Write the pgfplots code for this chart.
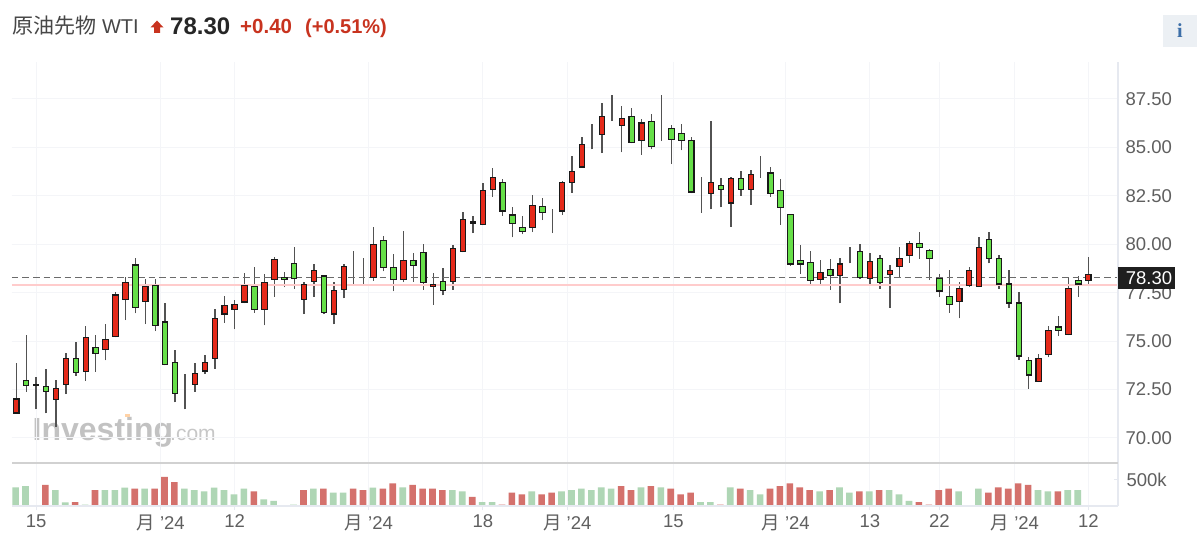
\documentclass[border=0pt]{standalone}
\usepackage{fontspec}
\usepackage{pgfplots}
\usepackage{pgfplotstable}
\pgfplotsset{compat=1.18}
\setmainfont{Liberation Sans}
\newfontfamily\cjk{Noto Sans CJK JP}
\definecolor{candleR}{HTML}{E52A1A}
\definecolor{candleG}{HTML}{66DF48}
\definecolor{volR}{HTML}{D4716C}
\definecolor{volG}{HTML}{AFD6B5}
\definecolor{gridc}{HTML}{F4F5F8}
\definecolor{axisc}{HTML}{E6E9F0}
\definecolor{labc}{HTML}{5F5F5F}
\definecolor{upred}{HTML}{C8331F}
\definecolor{infobg}{HTML}{ECF0F4}
\definecolor{infoi}{HTML}{3D6FA8}
\pgfplotstableread{
i H T B L c
0 73.85 72.01 71.29 71.24 1
1 75.32 72.99 72.70 72.39 0
2 73.16 72.77 72.72 71.48 1
3 73.56 72.65 72.41 71.27 0
4 72.99 72.56 71.99 70.58 1
5 74.40 74.09 72.77 72.27 1
6 74.97 74.11 73.39 73.22 0
7 75.80 75.21 73.41 72.96 1
8 75.32 74.68 74.37 73.42 0
9 75.87 75.09 74.59 74.01 1
10 77.55 77.38 75.26 75.20 1
11 78.33 78.02 77.17 76.09 1
12 79.29 78.93 76.74 76.43 0
13 78.19 77.81 77.04 75.88 1
14 78.19 77.88 75.83 75.52 0
15 76.99 75.99 73.80 73.75 0
16 74.54 73.89 72.29 71.84 0
17 73.29 72.78 72.78 71.48 0
18 73.85 73.34 72.77 72.39 1
19 74.27 73.90 73.46 73.30 1
20 76.64 76.19 74.09 73.58 1
21 77.35 76.83 76.40 75.95 1
22 77.12 76.88 76.61 75.61 1
23 78.53 77.88 77.02 76.95 1
24 78.81 77.81 76.61 76.47 0
25 78.47 78.02 76.61 75.81 1
26 79.36 79.20 78.16 77.30 1
27 78.59 78.27 78.16 77.78 0
28 79.88 79.00 78.22 77.71 0
29 78.07 77.93 77.17 76.40 1
30 78.97 78.64 78.09 77.30 1
31 78.40 78.36 76.47 76.40 0
32 78.04 77.61 76.40 75.87 1
33 78.98 78.86 77.67 77.21 1
34 79.65 78.58 78.58 77.86 0
35 79.31 78.30 78.30 77.97 0
36 80.91 79.98 78.29 78.12 1
37 80.43 80.19 78.78 78.60 0
38 79.50 78.79 78.16 77.57 0
39 80.70 79.14 78.16 78.04 1
40 79.57 79.14 78.91 78.07 0
41 80.01 79.57 78.02 77.64 0
42 78.50 77.93 77.81 76.87 1
43 78.76 78.09 77.61 77.36 0
44 79.95 79.76 78.09 77.64 1
45 81.68 81.30 79.62 79.58 1
46 81.48 81.15 81.10 80.57 1
47 83.15 82.77 81.01 80.98 1
48 83.94 83.47 82.84 82.46 1
49 83.35 83.20 81.72 81.48 0
50 81.94 81.51 81.08 80.36 0
51 81.44 80.87 80.67 80.51 0
52 82.53 81.99 80.87 80.63 1
53 82.37 81.94 81.65 81.25 0
54 81.80 81.37 81.37 80.57 0
55 83.27 83.18 81.72 81.53 1
56 84.56 83.75 83.18 82.66 1
57 85.52 85.14 83.99 83.95 1
58 86.23 85.43 85.43 84.90 0
59 87.28 86.61 85.69 84.70 1
60 87.69 86.96 86.96 86.36 0
61 87.14 86.47 86.11 84.75 1
62 87.05 86.61 85.26 85.21 0
63 86.45 86.26 85.35 84.61 1
64 86.71 86.33 85.07 84.90 0
65 87.69 85.72 85.72 85.33 0
66 86.16 85.99 85.40 84.14 0
67 86.23 85.71 85.35 84.85 0
68 85.56 85.35 82.70 82.63 0
69 83.49 82.78 82.78 81.62 0
70 86.35 83.18 82.61 81.80 1
71 83.40 83.04 82.84 81.91 0
72 83.46 83.40 82.13 80.91 1
73 83.78 83.40 82.84 82.51 0
74 83.83 83.61 82.84 82.03 1
75 84.54 83.88 83.88 83.44 0
76 83.97 83.68 82.61 82.46 0
77 83.35 82.77 81.92 81.00 0
78 81.56 81.53 78.98 78.90 0
79 79.94 79.14 78.98 78.48 0
80 79.63 79.07 78.15 77.95 0
81 79.17 78.52 78.17 77.95 1
82 79.24 78.71 78.38 77.64 0
83 79.29 78.98 78.38 76.95 1
84 79.84 79.27 79.27 79.02 0
85 80.01 79.62 78.28 78.22 0
86 79.53 79.12 78.22 77.86 1
87 79.45 79.27 78.02 77.71 0
88 78.95 78.64 78.45 76.73 1
89 79.84 79.27 78.84 78.29 1
90 80.19 80.05 79.41 79.05 1
91 80.63 80.05 79.82 79.26 0
92 79.76 79.69 79.27 78.15 0
93 78.47 78.22 77.59 77.30 0
94 78.67 77.31 76.88 76.47 0
95 78.07 77.74 77.04 76.18 1
96 78.81 78.64 77.86 77.81 1
97 80.36 79.84 77.81 77.79 1
98 80.63 80.25 79.27 79.02 0
99 79.45 79.27 77.95 77.71 0
100 78.67 77.95 76.97 76.73 0
101 77.55 76.97 74.23 74.02 0
102 74.20 74.02 73.25 72.53 0
103 74.34 74.11 72.91 72.89 1
104 75.80 75.57 74.30 74.16 1
105 76.30 75.73 75.57 75.26 0
106 78.29 77.74 75.35 75.30 1
107 78.36 78.15 77.95 77.30 0
108 79.36 78.43 78.15 77.93 1
}\candles
\pgfplotstableread{
i v
3 401
6 74
8 302
12 327
14 327
15 549
16 450
24 278
29 302
31 327
34 327
35 302
37 327
38 426
40 401
41 327
42 327
43 302
46 173
49 25
50 253
51 222
53 222
54 253
61 376
62 302
64 376
66 327
67 222
68 253
71 25
73 327
76 327
77 376
78 426
79 352
80 302
82 302
85 278
87 302
91 74
92 25
93 302
94 327
98 253
99 352
100 327
101 426
102 401
105 278
}\volred
\pgfplotstableread{
i v
0 352
1 376
4 302
5 68
7 25
9 302
10 302
11 346
13 327
17 327
18 302
19 278
20 346
21 302
22 222
23 327
25 123
26 99
28 25
30 327
32 253
33 253
36 346
39 352
44 302
45 278
47 74
48 74
52 278
55 278
56 302
57 327
58 302
59 352
60 327
63 352
65 352
69 74
70 74
72 352
74 302
75 222
81 278
83 352
84 253
86 278
88 302
89 222
90 99
95 278
97 327
103 302
104 278
106 302
107 302
}\volgreen
\pgfplotsset{
 base/.style={scale only axis, width=1106pt, xmin=-0.433, xmax=110.99, clip=true},
 mainy/.style={height=400pt, ymin=68.76, ymax=89.41, at={(12pt,85pt)}, anchor=south west},
 xt/.style={xtick={2,14.53,22,35.5,47,55.5,66.2,77.5,86,93,100.6,108}},
}
\begin{document}
\begin{tikzpicture}[x=1pt,y=1pt]
\path[use as bounding box,fill=white] (0,0) rectangle (1200,547);
% watermark
\node[anchor=base west,inner sep=0pt,text=black!24] at (32.5,107) {\fontsize{32}{32}\selectfont\bfseries Investing};
\node[anchor=base west,inner sep=0pt,text=black!22] at (170,107) {\fontsize{21}{21}\selectfont .com};
\fill[orange!35] (125,130) rectangle (130,133.5);
% grid, wicks and reference lines
\begin{axis}[base,mainy,xt,
  axis line style={draw=none},
  xmajorgrids, ymajorgrids, grid style={gridc,line width=1pt},
  xticklabels={}, major tick length=0pt,
  ytick={70,72.5,75,77.5,80,82.5,85,87.5},
  yticklabel pos=right,
  /pgf/number format/assume math mode=true,
  /pgf/number format/fixed, /pgf/number format/fixed zerofill, /pgf/number format/precision=2,
  yticklabel style={font=\fontsize{18.5}{20}\selectfont, text=labc, xshift=4pt},
]
\addplot[draw=none, mark=none, forget plot, error bars/.cd, y dir=plus, y explicit, error mark=none,
  error bar style={color=black!68, line width=1.4pt}]
  table[x=i, y=L, y error expr=\thisrow{H}-\thisrow{L}] {\candles};
\addplot[color=red!20!white, line width=1.8pt] coordinates {(-0.433,77.91) (110.99,77.91)};
\addplot[color=black!58, line width=1.3pt, dash pattern=on 6.5pt off 4pt] coordinates {(-0.433,78.30) (110.99,78.30)};
\end{axis}
% candle bodies
\begin{axis}[base,mainy,hide axis, ybar stacked, bar width=5.4pt]
\addplot[draw=none, fill=none, forget plot] table[x=i, y=B] {\candles};
\addplot[draw=black!90, fill=candleR, line width=1.1pt, forget plot] table[x=i, y expr=\thisrow{c}*(\thisrow{T}-\thisrow{B})] {\candles};
\addplot[draw=black!90, fill=candleG, line width=1.1pt, forget plot] table[x=i, y expr=(1-\thisrow{c})*(\thisrow{T}-\thisrow{B})] {\candles};
\end{axis}
% volume
\begin{axis}[base,xt,height=44pt, ymin=0, ymax=832, at={(12pt,41pt)}, anchor=south west,
  axis line style={draw=none},
  xmajorgrids, grid style={gridc,line width=1pt},
  tick style={axisc,line width=1pt}, major tick length=4pt,
  xticklabels={15,{\cjk 月} '24,12,{\cjk 月} '24,18,{\cjk 月} '24,15,{\cjk 月} '24,13,22,{\cjk 月} '24,12},
  xticklabel style={font=\fontsize{18.5}{20}\selectfont, text=labc, yshift=-1pt},
  ytick={500}, yticklabels={500k}, yticklabel pos=right,
  yticklabel style={font=\fontsize{18.5}{20}\selectfont, text=labc, xshift=5pt},
  xtick pos=bottom, ytick pos=right,
  ybar, bar shift=-0.7pt, bar width=6.6pt,
]
\addplot[draw=none, fill=volR] table[x=i, y=v] {\volred};
\addplot[draw=none, fill=volG] table[x=i, y=v] {\volgreen};
\end{axis}
% frame
\draw[axisc,line width=1.2pt] (1118,41) -- (1118,485);
\draw[axisc,line width=1.2pt] (12,41) -- (1118,41);
\draw[black!18,line width=2pt] (12,84.5) -- (1118,84.5);
% last price tag
\fill[black!88] (1118,258) rectangle (1175,280);
\node[text=white,inner sep=0pt] at (1149,268.5) {\fontsize{18.5}{20}\selectfont 78.30};
% header
\node[anchor=base west,inner sep=0pt,text=black!72] at (12,513) {\fontsize{21}{24}\selectfont{\cjk 原油先物} \fontsize{20}{24}\selectfont WTI};
\fill[upred] (157,526.5) -- (163.5,519.5) -- (160,519.5) -- (160,514) -- (154,514) -- (154,519.5) -- (150.5,519.5) -- cycle;
\node[anchor=base west,inner sep=0pt,text=black!85] at (170,512) {\fontsize{24}{26}\selectfont\bfseries 78.30};
\node[anchor=base west,inner sep=0pt,text=upred] at (240,513) {\fontsize{20.5}{24}\selectfont\bfseries +0.40};
\node[anchor=base west,inner sep=0pt,text=upred] at (305,513) {\fontsize{20}{24}\selectfont\bfseries (+0.51\%)};
% info button
\fill[infobg] (1163,500) rectangle (1197,532);
\node[text=infoi,inner sep=0pt] at (1180,516) {\fontsize{20}{22}\selectfont\bfseries\fontspec{Liberation Serif} i};
\end{tikzpicture}
\end{document}
